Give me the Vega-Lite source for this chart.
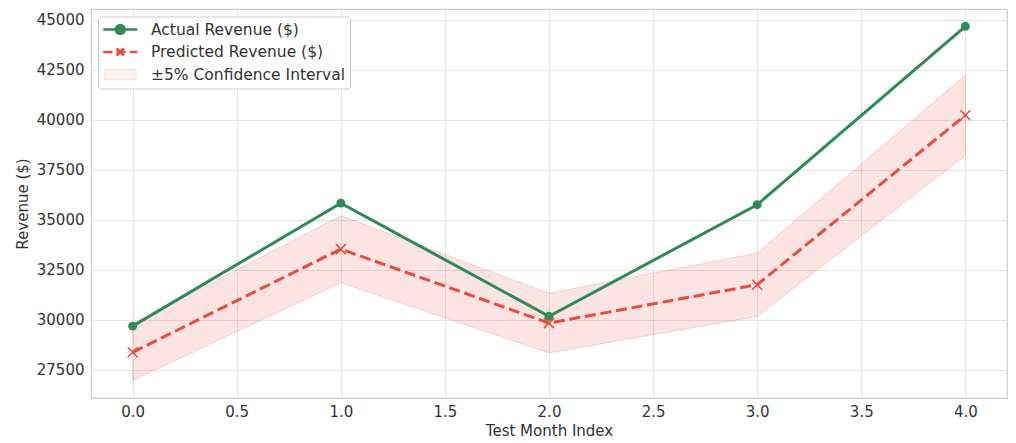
{
  "$schema": "https://vega.github.io/schema/vega-lite/v6.json",
  "width": 916,
  "height": 389,
  "autosize": {"type": "none"},
  "padding": {"left": 91, "top": 9, "right": 9, "bottom": 45},
  "background": "white",
  "config": {
    "font": "DejaVu Sans",
    "view": {"stroke": "#cccccc", "strokeWidth": 1.2},
    "axis": {
      "grid": true,
      "gridColor": "#e6e6e6",
      "gridWidth": 1,
      "domain": false,
      "ticks": false,
      "tickSize": 0,
      "labelFont": "DejaVu Sans",
      "labelFontSize": 15,
      "labelColor": "#333333",
      "titleFont": "DejaVu Sans",
      "titleFontSize": 15,
      "titleFontWeight": "normal",
      "titleColor": "#333333",
      "labelFlush": false
    }
  },
  "data": {
    "values": [
      {"month": 0, "actual": 29680, "predicted": 28370, "lower": 26951.5, "upper": 29788.5},
      {"month": 1, "actual": 35830, "predicted": 33530, "lower": 31853.5, "upper": 35206.5},
      {"month": 2, "actual": 30170, "predicted": 29830, "lower": 28338.5, "upper": 31321.5},
      {"month": 3, "actual": 35750, "predicted": 31750, "lower": 30162.5, "upper": 33337.5},
      {"month": 4, "actual": 44670, "predicted": 40220, "lower": 38209, "upper": 42231}
    ]
  },
  "layer": [
    {
      "mark": {"type": "area", "fill": "#e74c3c", "fillOpacity": 0.15, "stroke": "#e74c3c", "strokeOpacity": 0.2, "strokeWidth": 1, "opacity": 1},
      "encoding": {
        "x": {
          "field": "month", "type": "quantitative",
          "scale": {"domain": [-0.2, 4.2], "nice": false, "zero": false},
          "axis": {"title": "Test Month Index", "values": [0, 0.5, 1, 1.5, 2, 2.5, 3, 3.5, 4], "format": ".1f", "labelPadding": 6, "titlePadding": 4}
        },
        "y": {
          "field": "lower", "type": "quantitative",
          "scale": {"domain": [26085, 45535], "nice": false, "zero": false},
          "axis": {"title": "Revenue ($)", "values": [27500, 30000, 32500, 35000, 37500, 40000, 42500, 45000], "format": "d", "labelPadding": 7, "titlePadding": 6}
        },
        "y2": {"field": "upper"},
        "color": {
          "datum": "±5% Confidence Interval",
          "type": "nominal",
          "scale": {
            "domain": ["Actual Revenue ($)", "Predicted Revenue ($)", "±5% Confidence Interval"],
            "range": ["#2e8b57", "#e74c3c", "#f5b7b1"]
          },
          "legend": {
            "title": null, "orient": "none", "legendX": 7, "legendY": 7.5, "padding": 5,
            "strokeColor": "#cccccc", "fillColor": "rgba(255,255,255,0.85)", "cornerRadius": 3,
            "labelFont": "DejaVu Sans", "labelFontSize": 15.5, "labelColor": "#333333", "labelLimit": 400,
            "symbolSize": 213, "symbolStrokeWidth": 1, "rowPadding": 5.5, "clipHeight": 16,
            "labelOffset": 23, "symbolOffset": 9.5,
            "encode": {"symbols": {"update": {
              "shape": {"signal": "datum.value === 'Actual Revenue ($)' ? 'M-2.33,0H2.33M0.62,0A0.62,0.62,0,1,1,-0.62,0A0.62,0.62,0,1,1,0.62,0' : datum.value === 'Predicted Revenue ($)' ? 'M-2.33,0H-1.06M-0.51,0H0.75M1.3,0H2.33M-0.5,-0.5L0.5,0.5M-0.5,0.5L0.5,-0.5' : 'M-2.19,-0.75H2.19V0.75H-2.19Z'"},
              "fill": {"signal": "datum.value === 'Actual Revenue ($)' ? '#2e8b57' : datum.value === 'Predicted Revenue ($)' ? 'transparent' : '#e74c3c'"},
              "fillOpacity": {"signal": "datum.value === 'Actual Revenue ($)' || datum.value === 'Predicted Revenue ($)' ? 1 : 0.2"},
              "stroke": {"signal": "datum.value === 'Actual Revenue ($)' ? '#2e8b57' : '#e74c3c'"},
              "strokeOpacity": {"signal": "datum.value === 'Actual Revenue ($)' || datum.value === 'Predicted Revenue ($)' ? 1 : 0.25"},
              "strokeWidth": {"signal": "datum.value === 'Actual Revenue ($)' || datum.value === 'Predicted Revenue ($)' ? 2.5 : 1"},
              "opacity": {"value": 1},
              "size": {"value": 213}
            }}}
          }
        }
      }
    },
    {
      "mark": {"type": "line", "strokeWidth": 3},
      "encoding": {
        "x": {"field": "month", "type": "quantitative"},
        "y": {"field": "actual", "type": "quantitative"},
        "color": {
          "datum": "Actual Revenue ($)", "type": "nominal",
          "legend": {
            "title": null, "orient": "none", "legendX": 7, "legendY": 7.5, "padding": 5,
            "strokeColor": "#cccccc", "fillColor": "rgba(255,255,255,0.85)", "cornerRadius": 3,
            "labelFont": "DejaVu Sans", "labelFontSize": 15.5, "labelColor": "#333333", "labelLimit": 400,
            "symbolSize": 213, "symbolStrokeWidth": 1, "rowPadding": 5.5, "clipHeight": 16,
            "labelOffset": 23, "symbolOffset": 9.5,
            "encode": {"symbols": {"update": {
              "shape": {"signal": "datum.value === 'Actual Revenue ($)' ? 'M-2.33,0H2.33M0.62,0A0.62,0.62,0,1,1,-0.62,0A0.62,0.62,0,1,1,0.62,0' : datum.value === 'Predicted Revenue ($)' ? 'M-2.33,0H-1.06M-0.51,0H0.75M1.3,0H2.33M-0.5,-0.5L0.5,0.5M-0.5,0.5L0.5,-0.5' : 'M-2.19,-0.75H2.19V0.75H-2.19Z'"},
              "fill": {"signal": "datum.value === 'Actual Revenue ($)' ? '#2e8b57' : datum.value === 'Predicted Revenue ($)' ? 'transparent' : '#e74c3c'"},
              "fillOpacity": {"signal": "datum.value === 'Actual Revenue ($)' || datum.value === 'Predicted Revenue ($)' ? 1 : 0.2"},
              "stroke": {"signal": "datum.value === 'Actual Revenue ($)' ? '#2e8b57' : '#e74c3c'"},
              "strokeOpacity": {"signal": "datum.value === 'Actual Revenue ($)' || datum.value === 'Predicted Revenue ($)' ? 1 : 0.25"},
              "strokeWidth": {"signal": "datum.value === 'Actual Revenue ($)' || datum.value === 'Predicted Revenue ($)' ? 2.5 : 1"},
              "opacity": {"value": 1},
              "size": {"value": 213}
            }}}
          }
        }
      }
    },
    {
      "mark": {"type": "point", "filled": true, "size": 80, "opacity": 1},
      "encoding": {
        "x": {"field": "month", "type": "quantitative"},
        "y": {"field": "actual", "type": "quantitative"},
        "color": {
          "datum": "Actual Revenue ($)", "type": "nominal",
          "legend": {
            "title": null, "orient": "none", "legendX": 7, "legendY": 7.5, "padding": 5,
            "strokeColor": "#cccccc", "fillColor": "rgba(255,255,255,0.85)", "cornerRadius": 3,
            "labelFont": "DejaVu Sans", "labelFontSize": 15.5, "labelColor": "#333333", "labelLimit": 400,
            "symbolSize": 213, "symbolStrokeWidth": 1, "rowPadding": 5.5, "clipHeight": 16,
            "labelOffset": 23, "symbolOffset": 9.5,
            "encode": {"symbols": {"update": {
              "shape": {"signal": "datum.value === 'Actual Revenue ($)' ? 'M-2.33,0H2.33M0.62,0A0.62,0.62,0,1,1,-0.62,0A0.62,0.62,0,1,1,0.62,0' : datum.value === 'Predicted Revenue ($)' ? 'M-2.33,0H-1.06M-0.51,0H0.75M1.3,0H2.33M-0.5,-0.5L0.5,0.5M-0.5,0.5L0.5,-0.5' : 'M-2.19,-0.75H2.19V0.75H-2.19Z'"},
              "fill": {"signal": "datum.value === 'Actual Revenue ($)' ? '#2e8b57' : datum.value === 'Predicted Revenue ($)' ? 'transparent' : '#e74c3c'"},
              "fillOpacity": {"signal": "datum.value === 'Actual Revenue ($)' || datum.value === 'Predicted Revenue ($)' ? 1 : 0.2"},
              "stroke": {"signal": "datum.value === 'Actual Revenue ($)' ? '#2e8b57' : '#e74c3c'"},
              "strokeOpacity": {"signal": "datum.value === 'Actual Revenue ($)' || datum.value === 'Predicted Revenue ($)' ? 1 : 0.25"},
              "strokeWidth": {"signal": "datum.value === 'Actual Revenue ($)' || datum.value === 'Predicted Revenue ($)' ? 2.5 : 1"},
              "opacity": {"value": 1},
              "size": {"value": 213}
            }}}
          }
        }
      }
    },
    {
      "mark": {"type": "line", "strokeWidth": 3, "strokeDash": [11, 4.8]},
      "encoding": {
        "x": {"field": "month", "type": "quantitative"},
        "y": {"field": "predicted", "type": "quantitative"},
        "color": {
          "datum": "Predicted Revenue ($)", "type": "nominal",
          "legend": {
            "title": null, "orient": "none", "legendX": 7, "legendY": 7.5, "padding": 5,
            "strokeColor": "#cccccc", "fillColor": "rgba(255,255,255,0.85)", "cornerRadius": 3,
            "labelFont": "DejaVu Sans", "labelFontSize": 15.5, "labelColor": "#333333", "labelLimit": 400,
            "symbolSize": 213, "symbolStrokeWidth": 1, "rowPadding": 5.5, "clipHeight": 16,
            "labelOffset": 23, "symbolOffset": 9.5,
            "encode": {"symbols": {"update": {
              "shape": {"signal": "datum.value === 'Actual Revenue ($)' ? 'M-2.33,0H2.33M0.62,0A0.62,0.62,0,1,1,-0.62,0A0.62,0.62,0,1,1,0.62,0' : datum.value === 'Predicted Revenue ($)' ? 'M-2.33,0H-1.06M-0.51,0H0.75M1.3,0H2.33M-0.5,-0.5L0.5,0.5M-0.5,0.5L0.5,-0.5' : 'M-2.19,-0.75H2.19V0.75H-2.19Z'"},
              "fill": {"signal": "datum.value === 'Actual Revenue ($)' ? '#2e8b57' : datum.value === 'Predicted Revenue ($)' ? 'transparent' : '#e74c3c'"},
              "fillOpacity": {"signal": "datum.value === 'Actual Revenue ($)' || datum.value === 'Predicted Revenue ($)' ? 1 : 0.2"},
              "stroke": {"signal": "datum.value === 'Actual Revenue ($)' ? '#2e8b57' : '#e74c3c'"},
              "strokeOpacity": {"signal": "datum.value === 'Actual Revenue ($)' || datum.value === 'Predicted Revenue ($)' ? 1 : 0.25"},
              "strokeWidth": {"signal": "datum.value === 'Actual Revenue ($)' || datum.value === 'Predicted Revenue ($)' ? 2.5 : 1"},
              "opacity": {"value": 1},
              "size": {"value": 213}
            }}}
          }
        }
      }
    },
    {
      "mark": {"type": "point", "shape": "M-1,-1L1,1M-1,1L1,-1", "filled": false, "size": 100, "strokeWidth": 1.5, "opacity": 1},
      "encoding": {
        "x": {"field": "month", "type": "quantitative"},
        "y": {"field": "predicted", "type": "quantitative"},
        "color": {
          "datum": "Predicted Revenue ($)", "type": "nominal",
          "legend": {
            "title": null, "orient": "none", "legendX": 7, "legendY": 7.5, "padding": 5,
            "strokeColor": "#cccccc", "fillColor": "rgba(255,255,255,0.85)", "cornerRadius": 3,
            "labelFont": "DejaVu Sans", "labelFontSize": 15.5, "labelColor": "#333333", "labelLimit": 400,
            "symbolSize": 213, "symbolStrokeWidth": 1, "rowPadding": 5.5, "clipHeight": 16,
            "labelOffset": 23, "symbolOffset": 9.5,
            "encode": {"symbols": {"update": {
              "shape": {"signal": "datum.value === 'Actual Revenue ($)' ? 'M-2.33,0H2.33M0.62,0A0.62,0.62,0,1,1,-0.62,0A0.62,0.62,0,1,1,0.62,0' : datum.value === 'Predicted Revenue ($)' ? 'M-2.33,0H-1.06M-0.51,0H0.75M1.3,0H2.33M-0.5,-0.5L0.5,0.5M-0.5,0.5L0.5,-0.5' : 'M-2.19,-0.75H2.19V0.75H-2.19Z'"},
              "fill": {"signal": "datum.value === 'Actual Revenue ($)' ? '#2e8b57' : datum.value === 'Predicted Revenue ($)' ? 'transparent' : '#e74c3c'"},
              "fillOpacity": {"signal": "datum.value === 'Actual Revenue ($)' || datum.value === 'Predicted Revenue ($)' ? 1 : 0.2"},
              "stroke": {"signal": "datum.value === 'Actual Revenue ($)' ? '#2e8b57' : '#e74c3c'"},
              "strokeOpacity": {"signal": "datum.value === 'Actual Revenue ($)' || datum.value === 'Predicted Revenue ($)' ? 1 : 0.25"},
              "strokeWidth": {"signal": "datum.value === 'Actual Revenue ($)' || datum.value === 'Predicted Revenue ($)' ? 2.5 : 1"},
              "opacity": {"value": 1},
              "size": {"value": 213}
            }}}
          }
        }
      }
    }
  ]
}
